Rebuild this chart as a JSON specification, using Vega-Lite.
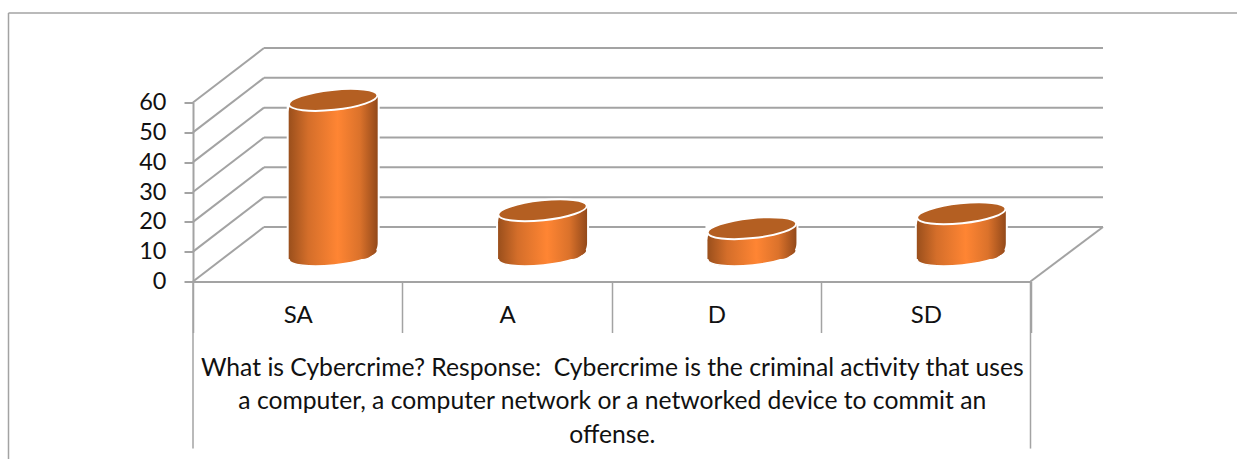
{
"$schema":"https://vega.github.io/schema/vega-lite/v6.json",
"width":837.5,"height":179,
"autosize":{"type":"none"},
"padding":{"left":193,"top":102.5,"right":206.5,"bottom":177.5},
"background":"white",
"view":{"stroke":null},
"config":{"font":"Lato","view":{"stroke":null},
 "axisY":{"tickCount":6,"labelOverlap":false,"labelFont":"Lato","labelFontSize":23.5,"labelColor":"#111111","labelPadding":18,"tickSize":9,"tickColor":"#A3A3A3","tickWidth":2,"domainColor":"#A3A3A3","domainWidth":2,"grid":false}},
"datasets":{
"bars":[{"category":"SA","value":52},{"category":"A","value":15},{"category":"D","value":9},{"category":"SD","value":14}],
"grid":[{"v":0},{"v":10},{"v":20},{"v":30},{"v":40},{"v":50},{"v":60}]
},
"layer":[
{"data":{"name":"grid"},"mark":{"type":"rule","color":"#A3A3A3","strokeWidth":2,"xOffset":71,"x2Offset":72.5,"yOffset":-54.5,"y2Offset":-54.5},
 "encoding":{"x":{"datum":"SA","bandPosition":0,
   "type":"nominal",
   "scale":{"domain":["SA","A","D","SD"],"paddingInner":0,"paddingOuter":0},
   "axis":{"orient":"bottom","title":["What is Cybercrime? Response:\u00a0 Cybercrime is the criminal activity that uses","a computer, a computer network or a networked device to commit an","offense."],
     "titleFont":"Lato","titleFontSize":24.7,"titleFontWeight":"normal","titleColor":"#111111","titleLineHeight":33.5,"titlePadding":22,
     "labelFont":"Lato","labelFontSize":24,"labelColor":"#111111","labelAngle":0,"labelPadding":-17,"labelBaseline":"middle",
     "tickBand":"extent","tickSize":51,"tickColor":"#A3A3A3","tickWidth":1.5,"domainColor":"#A3A3A3","domainWidth":2,"grid":false}},
   "x2":{"datum":"SD","bandPosition":1},
   "y":{"field":"v","type":"quantitative","scale":{"domain":[0,60],"nice":false},"title":null},
   "y2":{"field":"v"}}},
{"data":{"name":"grid"},"mark":{"type":"rule","color":"#A3A3A3","strokeWidth":2,"x2Offset":71,"y2Offset":-54.5},
 "encoding":{"x":{"datum":"SA","bandPosition":0,"type":"nominal"},"x2":{"datum":"SA","bandPosition":0},
   "y":{"field":"v","type":"quantitative","title":null},"y2":{"field":"v"}}},
{"data":{"name":"grid"},"transform":[{"filter":"datum.v == 0"}],"mark":{"type":"rule","color":"#A3A3A3","strokeWidth":2,"x2Offset":72.5,"y2Offset":-54.5},
 "encoding":{"x":{"datum":"SD","bandPosition":1,"type":"nominal"},"x2":{"datum":"SD","bandPosition":1},
   "y":{"field":"v","type":"quantitative","title":null},"y2":{"field":"v"}}},
{"mark":{"type":"rule","color":"#A3A3A3","strokeWidth":1.5,"xOffset":-184.5,"x2Offset":207},
 "data":{"values":[{}]},
 "encoding":{"x":{"datum":"SA","bandPosition":0,"type":"nominal"},"x2":{"datum":"SD","bandPosition":1},"y":{"datum":90,"type":"quantitative","title":null},"y2":{"datum":90}}},
{"mark":{"type":"rule","color":"#A3A3A3","strokeWidth":1.5,"xOffset":-184.5},
 "data":{"values":[{}]},
 "encoding":{"x":{"datum":"SA","bandPosition":0,"type":"nominal"},"y":{"datum":90,"type":"quantitative","title":null},"y2":{"datum":-60}}},
{"mark":{"type":"rule","color":"#A3A3A3","strokeWidth":1.5},
 "data":{"values":[{}]},
 "encoding":{"x":{"datum":"SA","bandPosition":0,"type":"nominal"},"y":{"datum":0,"type":"quantitative","title":null},"y2":{"datum":-56}}},
{"mark":{"type":"rule","color":"#A3A3A3","strokeWidth":1.5},
 "data":{"values":[{}]},
 "encoding":{"x":{"datum":"SD","bandPosition":1,"type":"nominal"},"y":{"datum":0,"type":"quantitative","title":null},"y2":{"datum":-56}}},
{"data":{"name":"bars"},"mark":{"type":"bar","width":93,"color":"white","xOffset":35.5,"yOffset":-30.5,"y2Offset":-22.5,"clip":false},
 "encoding":{"x":{"field":"category","type":"nominal"},"y":{"field":"value","type":"quantitative","stack":null,"title":null},"y2":{"datum":0}}},
{"data":{"name":"bars"},"mark":{"type":"point","filled":true,"opacity":1,"size":7921,"angle":-6,"shape":"M -1 0 A 1 0.225 0 1 1 1 0 A 1 0.225 0 1 1 -1 0 Z","xOffset":35.5,"yOffset":-26.5,"stroke":"white","strokeWidth":1.5,
   "fill":{"gradient":"linear","x1":0,"x2":1,"y1":0,"y2":0,"stops":[{"offset":0,"color":"#9A4F1C"},{"offset":0.22,"color":"#D46E2A"},{"offset":0.55,"color":"#FF8533"},{"offset":0.8,"color":"#DB722B"},{"offset":1,"color":"#93491A"}]}},
 "encoding":{"x":{"field":"category","type":"nominal"},"y":{"datum":0,"type":"quantitative","title":null}}},
{"data":{"name":"bars"},"mark":{"type":"bar","width":89,"xOffset":35.5,"yOffset":-30.5,"y2Offset":-22.5,"cornerRadiusTopLeft":16,"cornerRadiusBottomRight":16,"clip":false,
   "fill":{"gradient":"linear","x1":0,"x2":1,"y1":0,"y2":0,"stops":[{"offset":0,"color":"#9A4F1C"},{"offset":0.22,"color":"#D46E2A"},{"offset":0.55,"color":"#FF8533"},{"offset":0.8,"color":"#DB722B"},{"offset":1,"color":"#93491A"}]}},
 "encoding":{"x":{"field":"category","type":"nominal"},"y":{"field":"value","type":"quantitative","stack":null,"title":null},"y2":{"datum":0}}},
{"data":{"name":"bars"},"mark":{"type":"point","filled":true,"opacity":1,"size":7921,"angle":-6,"shape":"M -1 0 A 1 0.225 0 1 1 1 0 A 1 0.225 0 1 1 -1 0 Z","xOffset":35.5,"yOffset":-26.5,"fill":"#B45F22","stroke":"white","strokeWidth":2},
 "encoding":{"x":{"field":"category","type":"nominal"},"y":{"field":"value","type":"quantitative","title":null}}}
]
}
